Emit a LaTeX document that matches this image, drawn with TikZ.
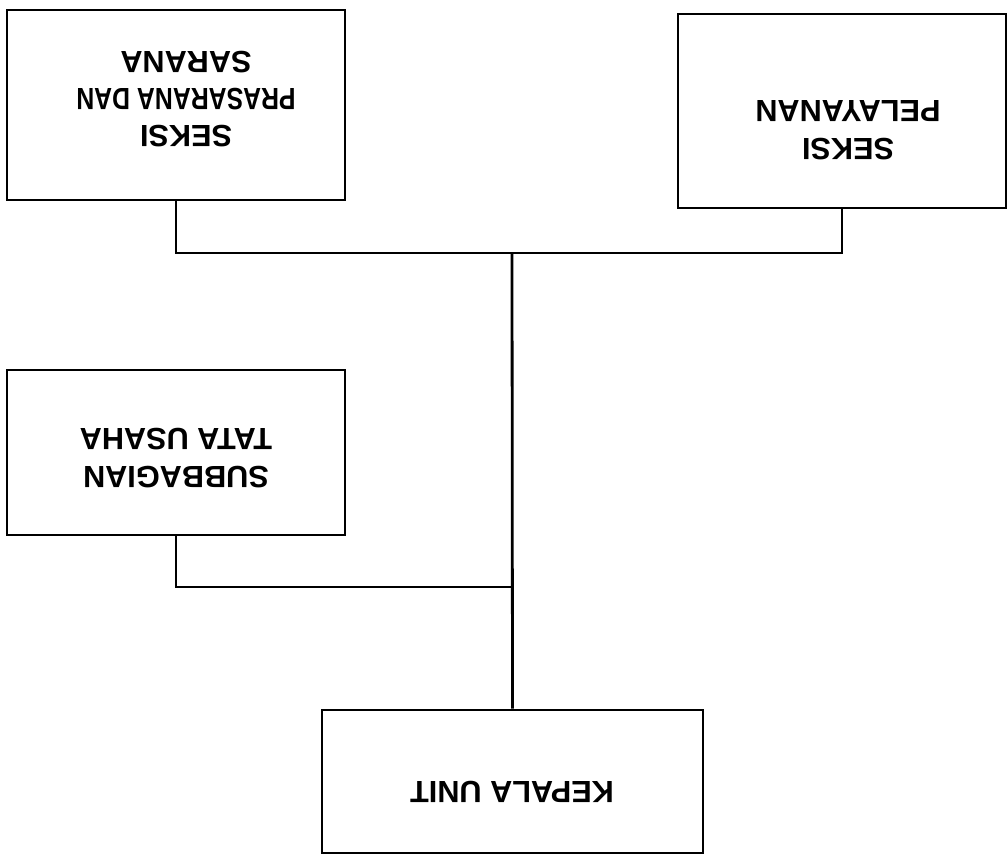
\documentclass[tikz,border=0pt]{standalone}
\usepackage{fontspec}
\usepackage{graphicx}
\setmainfont{Liberation Sans}
\begin{document}
\begin{tikzpicture}[x=0.75pt,y=-0.75pt,
  box/.style={draw,line width=2.1pt,rectangle,inner sep=0pt},
  lbl/.style={inner sep=0pt,font=\bfseries\fontsize{23}{28}\selectfont},
  conn/.style={line width=2.1pt}]
\useasboundingbox (0,0) rectangle (1008,859);
\fill[white] (0,0) rectangle (1008,859);
% boxes
\node[box,minimum width=253.5pt,minimum height=142.5pt] (p1) at (176,105) {};
\node[box,minimum width=246pt,minimum height=145.5pt] (p2) at (842,111) {};
\node[box,minimum width=253.5pt,minimum height=123.75pt] (p3) at (176,452.5) {};
\node[box,minimum width=285.75pt,minimum height=107.25pt] (k) at (512.5,781.5) {};
% labels (upside down as in the reference)
\node[lbl] (t1) at (186,96) {\rotatebox{180}{\begin{tabular}{@{}c@{}}SEKSI\\\scalebox{0.81}[1]{PRASARANA DAN}\\SARANA\end{tabular}}};
\node[lbl] (t2) at (848,127) {\rotatebox{180}{\begin{tabular}{@{}c@{}}SEKSI\\PELAYANAN\end{tabular}}};
\node[lbl] (t3) at (176,455) {\rotatebox{180}{\begin{tabular}{@{}c@{}}SUBBAGIAN\\TATA USAHA\end{tabular}}};
\node[lbl] (t4) at (512,792) {\rotatebox{180}{KEPALA UNIT}};
% connectors
\coordinate (j1) at (512,253);
\coordinate (j2) at (512,587);
\draw[conn] (p1.south) |- (j1);
\draw[conn] (p2.south) |- (j1);
\draw[conn] (j1) -- (k.north);
\draw[conn] (p3.south) |- (j2);
\end{tikzpicture}
\end{document}
